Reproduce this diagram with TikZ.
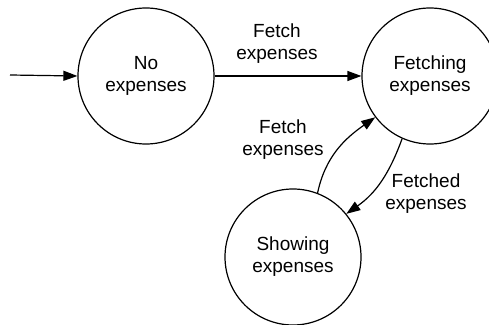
\documentclass[tikz,border=0pt]{standalone}
\usepackage{fontspec}
\setmainfont{Liberation Sans}
\usetikzlibrary{arrows.meta}
\begin{document}
\begin{tikzpicture}[x=1pt,y=1pt,
  state/.style={draw, circle, line width=1.2pt, minimum size=136pt, inner sep=0pt, align=center,
    font=\fontsize{19}{22}\selectfont},
  lbl/.style={align=center, font=\fontsize{19}{22}\selectfont},
  conn/.style={line width=1.2pt, -{Triangle[length=14pt,width=10pt]}}]
\useasboundingbox (0,0) rectangle (489,324);
\node[state] (no) at (146,248) {No\\expenses};
\node[state] (fetch) at (430,248) {Fetching\\expenses};
\node[state] (show) at (293,67) {Showing\\expenses};
\coordinate (start) at (10,249);
\draw[conn] (start) -- (no.west);
\draw[conn] (no.east) -- (fetch.west);
\draw[conn] (show.69) to[out=78,in=215] (fetch.217);
\draw[conn] (fetch.246) to[out=250,in=35] (show.39);
\node[lbl] (l1) at (277,280) {Fetch\\expenses};
\node[lbl] (l2) at (283,184) {Fetch\\expenses};
\node[lbl] (l3) at (426,130) {Fetched\\expenses};
\end{tikzpicture}
\end{document}
